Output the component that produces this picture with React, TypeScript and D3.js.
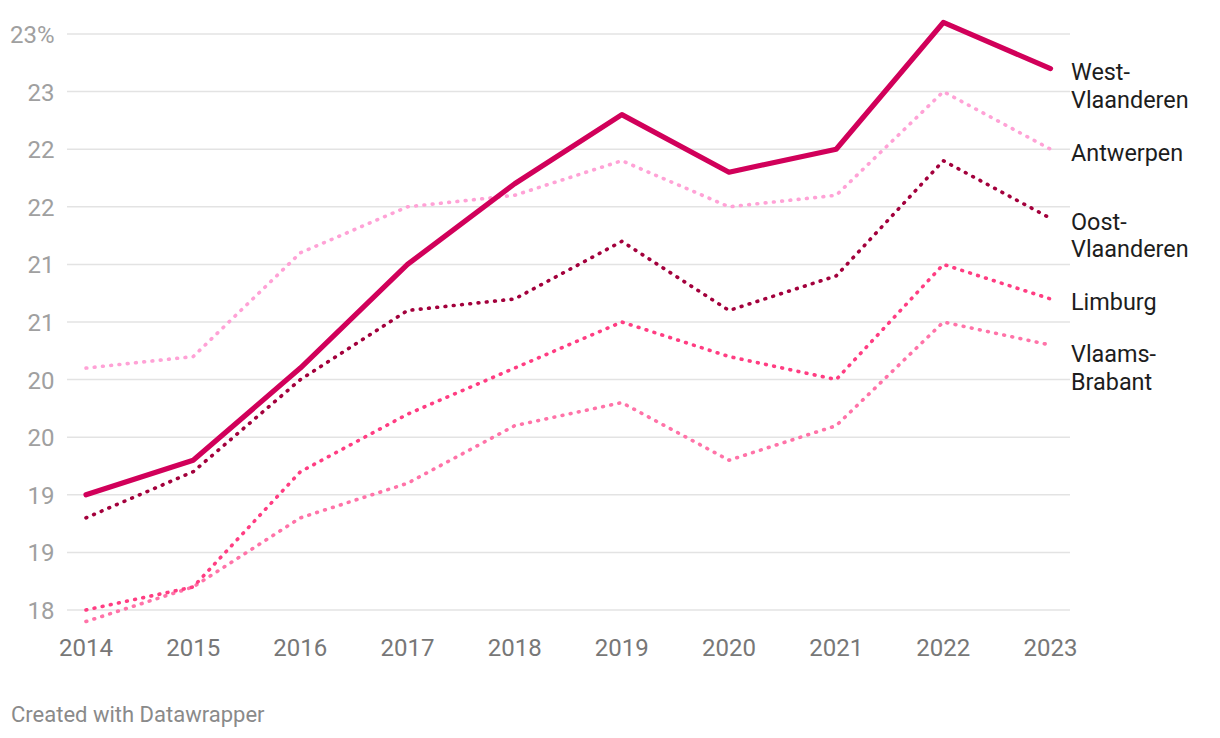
import React from "react";
import * as d3 from "d3";

const years = [2014, 2015, 2016, 2017, 2018, 2019, 2020, 2021, 2022, 2023];
const westVlaanderen = [19.0, 19.3, 20.1, 21.0, 21.7, 22.3, 21.8, 22.0, 23.1, 22.7];
const antwerpen = [20.1, 20.2, 21.1, 21.5, 21.6, 21.9, 21.5, 21.6, 22.5, 22.0];
const oostVlaanderen = [18.8, 19.2, 20.0, 20.6, 20.7, 21.2, 20.6, 20.9, 21.9, 21.4];
const limburg = [18.0, 18.2, 19.2, 19.7, 20.1, 20.5, 20.2, 20.0, 21.0, 20.7];
const vlaamsBrabant = [17.9, 18.2, 18.8, 19.1, 19.6, 19.8, 19.3, 19.6, 20.5, 20.3];
const yTicks = [18, 18.5, 19, 19.5, 20, 20.5, 21, 21.5, 22, 22.5, 23];

const series = [
  { name: ["Vlaams-", "Brabant"], values: vlaamsBrabant, color: "#ff73a8", dotted: true },
  { name: ["Limburg"], values: limburg, color: "#ff3d82", dotted: true },
  { name: ["Oost-", "Vlaanderen"], values: oostVlaanderen, color: "#a3003c", dotted: true },
  { name: ["Antwerpen"], values: antwerpen, color: "#ffa2d6", dotted: true },
  { name: ["West-", "Vlaanderen"], values: westVlaanderen, color: "#d1005a", dotted: false },
];

export default function App() {
  const W = 1220, H = 738;
  const x = d3.scaleLinear().domain([2014, 2023]).range([86, 1050.5]);
  const y = d3.scaleLinear().domain([18, 23]).range([610, 34]);
  const line = d3.line<number>().x((_, i) => x(years[i])).y((d) => y(d));
  const font = "Roboto, 'Noto Sans', sans-serif";
  const lineH = 27.5;

  // label placement with simple overlap avoidance (top-down)
  const labels = series
    .map((s) => ({ s, y: y(s.values[s.values.length - 1]) + 11.5 }))
    .sort((a, b) => a.y - b.y);
  let prevBottom = -Infinity;
  labels.forEach((l) => {
    const top = l.y - 17;
    if (top < prevBottom + 29) l.y += prevBottom + 29 - top;
    prevBottom = l.y + (l.s.name.length - 1) * lineH + 6;
  });

  return (
    <svg width={W} height={H} style={{ position: "absolute", left: 0, top: 0, background: "#fff" }} fontFamily={font}>
      {yTicks.map((t) => (
        <g key={t}>
          <line x1={67} x2={1070} y1={y(t)} y2={y(t)} stroke="#e3e3e3" strokeWidth={1.5} />
          <text x={54.5} y={y(t) + 9} textAnchor="end" fontSize={24} fill="#a0a0a0">
            {Math.round(t) + (t === 23 ? "%" : "")}
          </text>
        </g>
      ))}
      {years.map((yr) => (
        <text key={yr} x={x(yr)} y={656} textAnchor="middle" fontSize={24} fill="#777">
          {yr}
        </text>
      ))}
      {series.map((s) => (
        <path
          key={s.name.join("")}
          d={line(s.values) || ""}
          fill="none"
          stroke={s.color}
          strokeWidth={s.dotted ? 3.6 : 5.2}
          strokeLinecap="round"
          strokeLinejoin="round"
          strokeDasharray={s.dotted ? "0.8 7.5" : undefined}
        />
      ))}
      {labels.map((l) => (
        <text key={l.s.name.join("")} x={1071} y={l.y} fontSize={23.4} fill="#1d1d1d">
          {l.s.name.map((n, i) => (
            <tspan key={i} x={1071} dy={i === 0 ? 0 : lineH}>
              {n}
            </tspan>
          ))}
        </text>
      ))}
      <text x={11} y={722} fontSize={22} fill="#8a8a8a">
        Created with Datawrapper
      </text>
    </svg>
  );
}
